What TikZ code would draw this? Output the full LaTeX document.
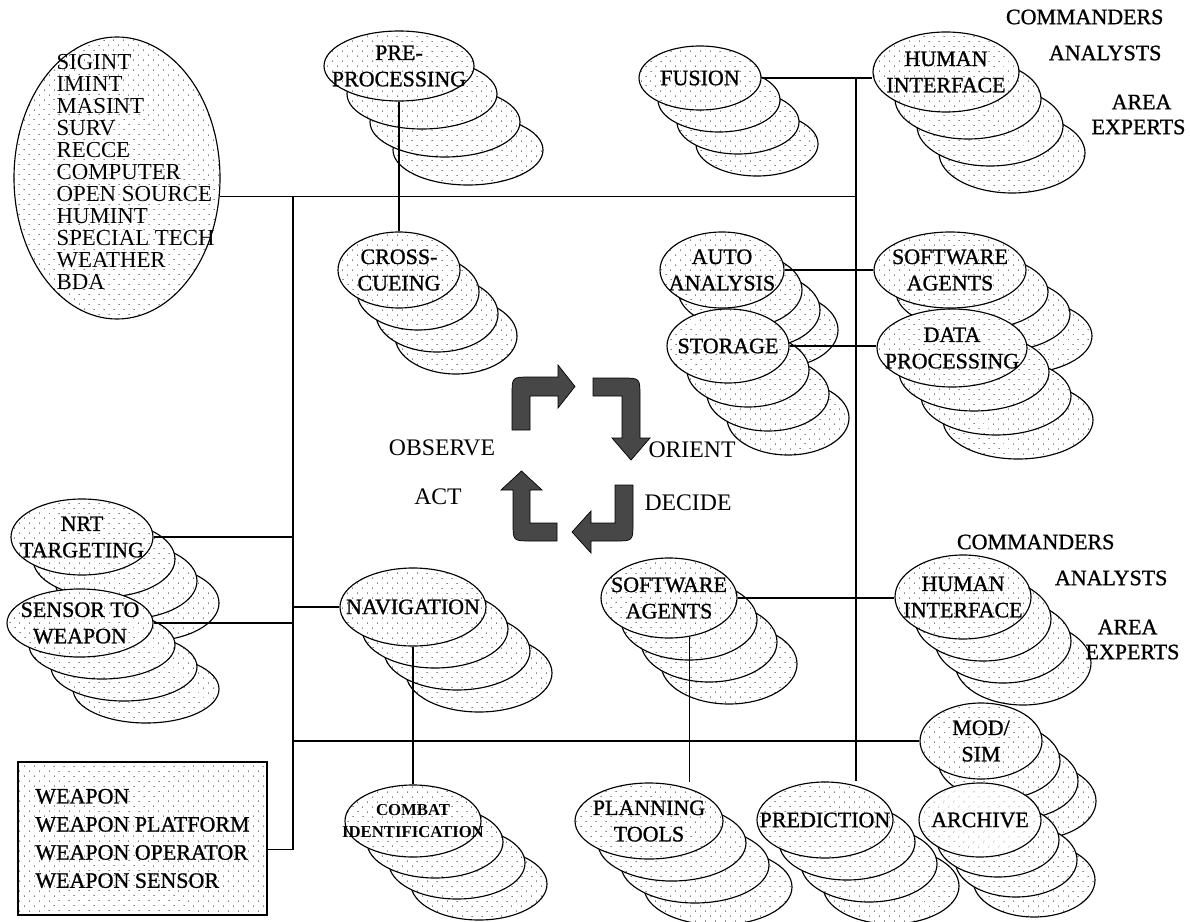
\documentclass[tikz,border=0pt]{standalone}
\usepackage{fontspec}
\setmainfont{Liberation Serif}
\newfontfamily\heavyfont{Liberation Serif}[FakeBold=1]
\usetikzlibrary{shapes.geometric,patterns.meta}

\newcommand{\stackfont}{\heavyfont\fontsize{12.5}{15}\selectfont}
\newcommand{\combatfont}{\fontsize{9.5}{12}\selectfont\bfseries}

\begin{document}
\begin{tikzpicture}[x=0.2mm, y=-0.2mm, line width=0.65pt,
    dotfill/.style={preaction={fill=white}, pattern={Dots[distance=4pt, radius=0.32pt, angle=45]}, pattern color=black!75},
    layer/.style={ellipse, draw, dotfill, inner sep=0pt},
    stacktext/.style={align=center, inner sep=0pt},
    word/.style={font=\heavyfont\fontsize{12.5}{15}\selectfont, inner sep=0pt},
    cycleword/.style={font=\fontsize{13.5}{16}\selectfont, inner sep=0pt},
    bentarrow/.style={fill=black!72, draw=black, line width=0.4pt}]

\useasboundingbox (0,0) rectangle (1190,921);

% sources and weapons
\node[layer, minimum width=206*0.2mm, minimum height=282*0.2mm] (sources) at (117,178) {};
\node[anchor=west, align=left, inner sep=0pt, font=\fontsize{13}{12.5}\selectfont] (srclist) at (56,172)
  {SIGINT\\IMINT\\MASINT\\SURV\\RECCE\\COMPUTER\\OPEN SOURCE\\HUMINT\\SPECIAL TECH\\WEATHER\\BDA};
\node[draw, dotfill, minimum width=249*0.2mm, minimum height=153*0.2mm, align=left,
      font=\heavyfont\fontsize{12.5}{16}\selectfont] (weapons) at (142.5,838.5)
  {WEAPON\\WEAPON PLATFORM\\WEAPON OPERATOR\\WEAPON SENSOR};

% stacked ellipses, drawn from top to bottom
\foreach \n/\x/\y/\w/\h/\dx/\dy/\f/\t in {
    PRE/399/66/150/70/23/28/\stackfont/{PRE-\\PROCESSING},
    FUS/700/78/122/64/19/22/\stackfont/FUSION,
    HUM1/946/72/146/80/22/27/\stackfont/{HUMAN\\INTERFACE},
    CROSS/399/270/122/76/19/22/\stackfont/{CROSS-\\CUEING},
    AUTO/722/270/124/76/18/20/\stackfont/{AUTO\\ANALYSIS},
    SWA1/950/270/152/76/22/22/\stackfont/{SOFTWARE\\AGENTS},
    STOR/728/346/122/74/20/24/\stackfont/STORAGE,
    DATA/952/348/150/78/22/24/\stackfont/{DATA\\PROCESSING},
    NRT/82/537/142/76/22/22/\stackfont/{NRT\\TARGETING},
    HUM2/963/597/136/84/20/22/\stackfont/{HUMAN\\INTERFACE},
    SWA2/669/598/136/80/20/22/\stackfont/{SOFTWARE\\AGENTS},
    NAV/413/607/146/78/22/22/\stackfont/NAVIGATION,
    SENS/80/623/146/68/22/22/\stackfont/{SENSOR TO\\WEAPON},
    MOD/981/741/122/76/18/20/\stackfont/{MOD/\\SIM},
    PLAN/649/821/148/76/23/22/\stackfont/{PLANNING\\TOOLS},
    PRED/825/820/136/76/22/22/\stackfont/PREDICTION,
    COMB/413/821/136/72/22/21/\combatfont/{COMBAT\\IDENTIFICATION},
    ARCH/980/820/122/74/18/20/\stackfont/ARCHIVE}{
  \foreach \k in {3,2,1}
    \node[layer, minimum width=\w*0.2mm, minimum height=\h*0.2mm] (\n-\k) at (\x+\k*\dx, \y+\k*\dy) {};
  \node[layer, minimum width=\w*0.2mm, minimum height=\h*0.2mm] (\n) at (\x,\y) {};
  \node[stacktext, font=\f] (\n-txt) at (\n) {\t};
}

% bus lines
\coordinate (busL) at (sources.-10 -| 293,0);
\coordinate (busR) at (FUS.east -| 856,0);
\draw (sources.-10) -- (sources.-10 -| busR);
\draw (FUS.east) -- (FUS.east -| HUM1.west);
\draw (busR) -- (busR |- PRED.north);
\draw (busL) -- (busL |- weapons.-5) -- (weapons.-5);
\draw (NRT.east) -- (NRT.east -| busL);
\draw (SENS.east) -- (SENS.east -| busL);
\draw (NAV.west) -- (NAV.west -| busL);
\draw (busL |- MOD.west) -- (MOD.west);
\draw (PRE.south) -- (CROSS.north);
\draw (NAV.south) -- (COMB.north);
\draw (AUTO.east) -- (AUTO.east -| SWA1.west);
\draw (STOR.east) -- (STOR.east -| DATA.west);
\draw (SWA2.east) -- (SWA2.east -| HUM2.west);
\draw (SWA2.-62) -- (SWA2.-62 |- PLAN.north);

% OODA loop
\fill[bentarrow] (512,430) -- (512,395) .. controls (512,377) .. (530,377) -- (558,377) -- (558,365)
  -- (575,386.5) -- (558,408) -- (558,396) -- (530,396) -- (530,430) -- cycle;
\fill[bentarrow] (593,378) -- (622,378) .. controls (640,378) .. (640,396) -- (640,438) -- (650,438)
  -- (631,460) -- (612,438) -- (622,438) -- (622,396) -- (593,396) -- cycle;
\fill[bentarrow] (615,485) -- (633,485) -- (633,523) .. controls (633,541) .. (615,541) -- (591,541)
  -- (591,553) -- (572,532) -- (591,511) -- (591,523) -- (615,523) -- cycle;
\fill[bentarrow] (557,523) -- (557,541) -- (531,541) .. controls (513,541) .. (513,523) -- (513,490)
  -- (501,490) -- (521.5,471) -- (542,490) -- (530,490) -- (530,523) -- cycle;
\node[cycleword] (observe) at (442,448) {OBSERVE};
\node[cycleword] (act) at (438,497) {ACT};
\node[cycleword] (orient) at (692,450) {ORIENT};
\node[cycleword] (decide) at (688,503) {DECIDE};

% users
\node[word, anchor=east] (cmd1) at (1164,17) {COMMANDERS};
\node[word, anchor=east] (ana1) at (1162,53) {ANALYSTS};
\node[word, anchor=east] (area1) at (1172,102) {AREA};
\node[word, anchor=east] (exp1) at (1186,127) {EXPERTS};
\node[word, anchor=east] (cmd2) at (1115,542) {COMMANDERS};
\node[word, anchor=east] (ana2) at (1168,578) {ANALYSTS};
\node[word, anchor=east] (area2) at (1158,627) {AREA};
\node[word, anchor=east] (exp2) at (1180,652) {EXPERTS};
\end{tikzpicture}
\end{document}
